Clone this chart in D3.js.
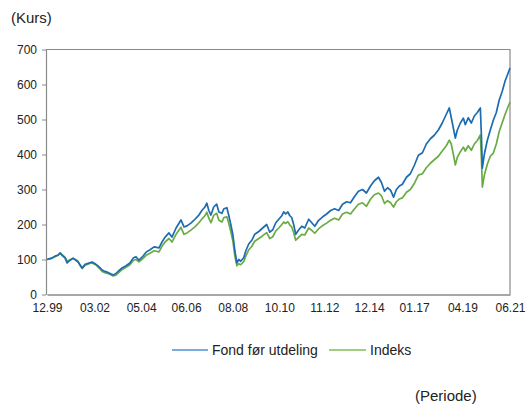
<!DOCTYPE html>
<html><head><meta charset="utf-8">
<script src="https://cdn.jsdelivr.net/npm/d3@7/dist/d3.min.js"></script>
<style>body{margin:0;background:#fff;}svg{display:block;font-family:"Liberation Sans",Arial,sans-serif;}</style>
</head><body><svg id="c" width="527" height="405"></svg>
<script>
const dates = ["1999-12-31","2000-02-05","2000-03-28","2000-05-18","2000-07-08","2000-08-11","2000-09-13","2000-11-03","2000-12-06",
"2001-01-26","2001-03-18","2001-05-08","2001-06-10","2001-07-16","2001-08-18","2001-10-08","2001-12-13",
"2002-02-02","2002-03-25","2002-04-27","2002-06-17","2002-07-23","2002-09-09","2002-10-15","2002-12-05",
"2003-01-26","2003-03-14","2003-05-04","2003-06-25","2003-09-02","2003-11-06",
"2004-01-01","2004-02-17","2004-04-08","2004-06-17","2004-08-07","2004-10-12","2004-12-20",
"2005-03-14","2005-05-04","2005-06-25","2005-08-29","2005-10-19","2005-12-28",
"2006-03-21","2006-05-11","2006-07-01","2006-09-05","2006-11-13",
"2007-01-19","2007-03-11","2007-05-01","2007-06-03","2007-07-06","2007-08-11","2007-09-27","2007-11-17","2007-12-24",
"2008-02-13","2008-03-18","2008-05-08","2008-06-10","2008-07-13","2008-08-18","2008-09-20","2008-10-24","2008-11-25","2008-12-28",
"2009-02-17","2009-03-25","2009-05-15","2009-07-05","2009-08-22","2009-10-31",
"2010-01-05","2010-03-14","2010-05-05","2010-06-25","2010-08-15","2010-10-05","2010-11-25","2010-12-28",
"2011-01-30","2011-03-07","2011-04-10","2011-05-12","2011-06-14","2011-07-19","2011-09-09","2011-10-30","2011-12-20",
"2012-02-24","2012-04-16","2012-06-06","2012-08-11","2012-10-19","2012-12-24",
"2013-03-02","2013-05-08","2013-07-16","2013-09-20","2013-11-28",
"2014-02-02","2014-04-12","2014-06-17","2014-08-25","2014-10-30",
"2015-01-07","2015-03-14","2015-05-22","2015-07-12","2015-09-02","2015-10-23","2015-12-13",
"2016-02-02","2016-03-21","2016-05-11","2016-07-01","2016-09-08","2016-11-13",
"2017-01-22","2017-03-29","2017-06-06","2017-08-11","2017-10-19","2017-12-24",
"2018-03-03","2018-05-08","2018-07-16","2018-09-05","2018-10-08","2018-11-13","2018-12-16",
"2019-01-19","2019-03-11","2019-05-01","2019-06-03","2019-07-23","2019-09-13","2019-11-03","2019-12-24",
"2020-02-13","2020-03-03","2020-03-18","2020-04-20","2020-06-10","2020-07-31","2020-09-20","2020-11-10","2020-12-28",
"2021-02-17","2021-04-08","2021-06-30"];

const fond = [100,102,104,110,113,118,112,104,90,
98,104,97,93,84,76,86,90,
93,88,84,76,70,66,64,60,
56,60,68,76,82,90,
104,108,98,110,121,128,136,
133,150,164,176,164,190,
213,193,196,204,215,
227,240,250,261,240,227,250,258,236,
232,245,248,225,200,170,125,90,100,95,
105,125,145,155,172,180,
190,200,178,185,205,215,225,236,
230,236,225,220,200,172,185,195,190,
215,205,195,212,222,230,
240,245,240,258,265,
262,280,295,300,290,
310,325,335,320,295,305,298,
278,300,310,315,335,345,
370,398,405,430,445,455,
470,490,515,533,505,475,447,
470,490,504,485,505,490,510,520,
533,450,361,400,440,470,498,520,555,
580,610,647];

const indeks = [100,101,105,108,112,119,114,106,95,
99,103,99,95,82,74,84,88,
90,86,82,73,66,62,61,57,
53,55,63,71,78,85,
97,100,93,103,112,118,125,
122,138,150,160,150,172,
192,172,176,184,193,
205,216,225,235,218,205,226,232,212,
207,220,222,202,180,152,110,82,88,85,
94,110,128,138,152,160,
168,177,160,165,182,190,200,207,
203,208,198,193,177,155,164,172,170,
190,183,175,188,197,204,
212,218,213,230,235,
230,245,258,262,252,
272,285,290,282,260,268,262,
250,265,273,276,292,300,
318,341,345,362,375,385,
395,410,425,441,430,400,370,
392,408,421,410,425,412,430,440,
456,385,307,340,372,395,404,430,465,
490,515,550];

const yTicks = [0,100,200,300,400,500,600,700];
const xTickDates = ["1999-12-31","2002-03-15","2004-05-15","2006-06-15","2008-08-15","2010-10-15","2012-11-15","2014-12-15","2017-01-15","2019-04-15","2021-06-30"];
const xTickLabels = ["12.99","03.02","05.04","06.06","08.08","10.10","11.12","12.14","01.17","04.19","06.21"];
const seriesNames = ["Fond før utdeling","Indeks"];
const colors = ["#1d6bb0","#6aab45"];
const legendColors = ["#4a90cf","#7cbf5a"];

const parse = d3.timeParse("%Y-%m-%d");
const svg = d3.select("#c");
const L = 46, R = 510, T = 49.5, B = 294.5;
const x = d3.scaleTime().domain([parse(dates[0]), parse(dates[dates.length-1])]).range([L+1, R]);
const y = d3.scaleLinear().domain([0,700]).range([B, T]);

svg.append("path").attr("d", `M${L},${T}H${R}V${B}`).attr("fill","none").attr("stroke","#8a8a8a").attr("stroke-width",1.2);

const line = d3.line().x((d,i)=>x(parse(dates[i]))).y(d=>y(d));
svg.append("path").datum(indeks).attr("d", line).attr("fill","none").attr("stroke",colors[1]).attr("stroke-width",1.7).attr("stroke-linejoin","round");
svg.append("path").datum(fond).attr("d", line).attr("fill","none").attr("stroke",colors[0]).attr("stroke-width",1.7).attr("stroke-linejoin","round");

const ya = svg.append("g").attr("transform",`translate(${L},0)`).call(d3.axisLeft(y).tickValues(yTicks).tickSize(4).tickPadding(5).tickSizeOuter(0));
ya.select(".domain").attr("stroke","#8a8a8a").attr("stroke-width",1.2);
ya.selectAll(".tick line").attr("stroke","#8a8a8a");
ya.selectAll("text").attr("font-size",12).attr("fill","#222").attr("font-family","Liberation Sans, Arial, sans-serif");

const xa = svg.append("g").attr("transform",`translate(0,${B})`).call(d3.axisBottom(x).tickValues(xTickDates.map(parse)).tickFormat((d,i)=>xTickLabels[i]).tickSize(0).tickPadding(9).tickSizeOuter(0));
xa.select(".domain").attr("stroke","#8a8a8a").attr("stroke-width",1.6);
xa.selectAll("text").attr("font-size",12).attr("fill","#222").attr("font-family","Liberation Sans, Arial, sans-serif");

svg.append("text").attr("x",11).attr("y",23).attr("font-size",15).attr("fill","#222").text("(Kurs)");
svg.append("text").attr("x",415).attr("y",401).attr("font-size",15).attr("fill","#222").text("(Periode)");

const lg = [{x1:172,x2:208,tx:212},{x1:329,x2:366,tx:370}];
seriesNames.forEach((n,i)=>{
  svg.append("line").attr("x1",lg[i].x1).attr("x2",lg[i].x2).attr("y1",350).attr("y2",350).attr("stroke",legendColors[i]).attr("stroke-width",1.5);
  svg.append("text").attr("x",lg[i].tx).attr("y",355).attr("font-size",14).attr("fill","#222").text(n);
});
</script></body></html>
